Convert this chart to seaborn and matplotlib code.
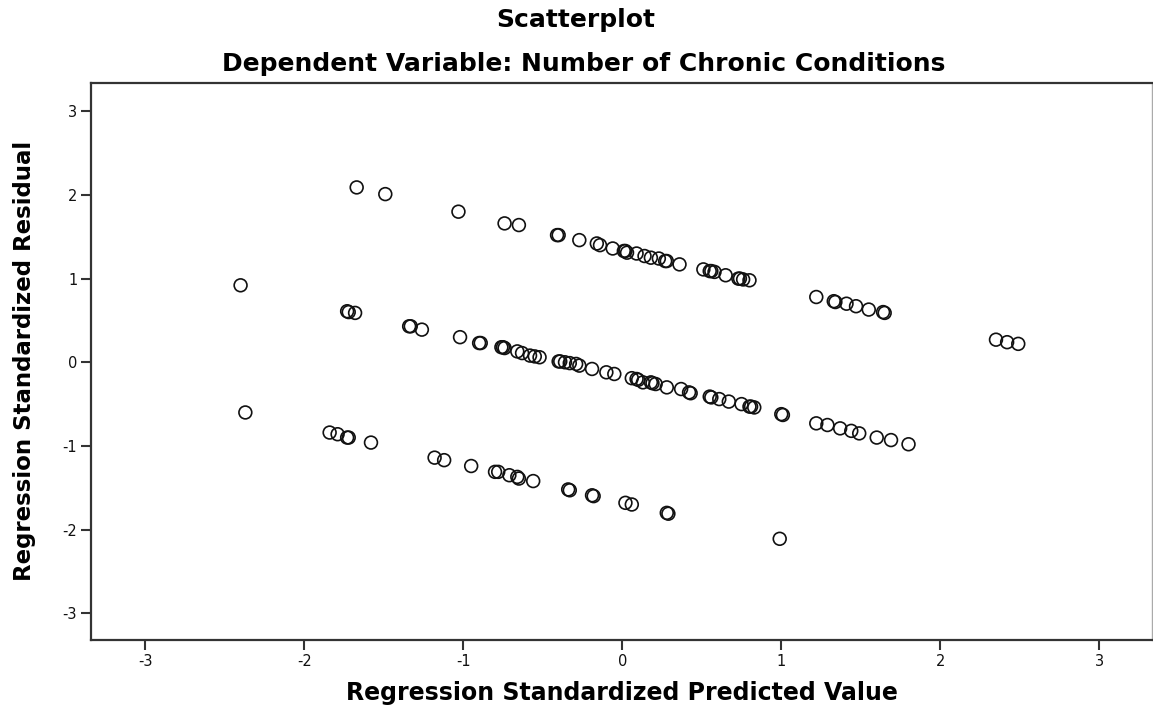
import pandas as pd
import matplotlib
matplotlib.use('Agg')
import matplotlib.pyplot as plt
import seaborn as sns

# values, one list pair per band
pred_top = [-1.67, -1.49, -1.03, -0.74, -0.65, -0.40, -0.41, -0.27, -0.16, -0.14,
            -0.06, 0.02, 0.01, 0.03, 0.09, 0.14, 0.18, 0.23, 0.28, 0.27, 0.36,
            0.51, 0.56, 0.55, 0.58, 0.65, 0.73, 0.74, 0.76, 0.80, 1.22, 1.33,
            1.34, 1.41, 1.47, 1.55, 1.64, 1.65, 2.35, 2.42, 2.49]
resid_top = [2.09, 2.01, 1.80, 1.66, 1.64, 1.52, 1.52, 1.46, 1.42, 1.40,
             1.36, 1.33, 1.33, 1.31, 1.30, 1.27, 1.25, 1.24, 1.21, 1.21, 1.17,
             1.11, 1.09, 1.09, 1.08, 1.04, 1.00, 1.00, 0.99, 0.98, 0.78, 0.73,
             0.72, 0.70, 0.67, 0.63, 0.60, 0.59, 0.27, 0.24, 0.22]

pred_mid = [-2.40, -1.73, -1.72, -1.68, -1.33, -1.34, -1.26, -1.02, -0.89, -0.90,
            -0.75, -0.76, -0.74, -0.66, -0.63, -0.58, -0.55, -0.52, -0.40, -0.39,
            -0.36, -0.33, -0.29, -0.27, -0.19, -0.10, -0.05, 0.06, 0.09, 0.10,
            0.13, 0.18, 0.19, 0.21, 0.28, 0.37, 0.42, 0.43, 0.55, 0.56, 0.61,
            0.67, 0.75, 0.80, 0.81, 0.83, 1.00, 1.01, 1.22, 1.29, 1.37, 1.44,
            1.49, 1.60, 1.69, 1.80]
resid_mid = [0.92, 0.61, 0.60, 0.59, 0.43, 0.43, 0.39, 0.30, 0.23, 0.23,
             0.18, 0.18, 0.17, 0.13, 0.11, 0.08, 0.07, 0.06, 0.01, 0.01,
             0.00, -0.01, -0.02, -0.04, -0.08, -0.12, -0.14, -0.19, -0.20, -0.21,
             -0.24, -0.24, -0.25, -0.26, -0.30, -0.32, -0.36, -0.37, -0.41, -0.42, -0.44,
             -0.47, -0.50, -0.53, -0.53, -0.54, -0.62, -0.63, -0.73, -0.75, -0.79, -0.82,
             -0.85, -0.90, -0.93, -0.98]

pred_low = [-2.37, -1.84, -1.79, -1.73, -1.72, -1.58, -1.18, -1.12, -0.95, -0.80,
            -0.78, -0.71, -0.66, -0.65, -0.56, -0.34, -0.33, -0.19, -0.18, 0.02,
            0.06, 0.28, 0.29, 0.99]
resid_low = [-0.60, -0.84, -0.86, -0.90, -0.90, -0.96, -1.14, -1.17, -1.24, -1.31,
             -1.31, -1.35, -1.37, -1.39, -1.42, -1.52, -1.53, -1.59, -1.60, -1.68,
             -1.70, -1.80, -1.81, -2.11]

ticks = [-3, -2, -1, 0, 1, 2, 3]

df = pd.DataFrame({
    'pred': pred_top + pred_mid + pred_low,
    'resid': resid_top + resid_mid + resid_low,
})

sns.set_style('white')
# wide bold face to get close to the stretched SPSS lettering
plt.rcParams['font.family'] = ['DejaVu Sans']
plt.rcParams['text.color'] = 'black'
plt.rcParams['axes.labelcolor'] = 'black'

fig = plt.figure(figsize=(11.53, 7.08), dpi=100)
ax = fig.add_axes([0.079, 0.096, 0.920, 0.787])

sns.scatterplot(data=df, x='pred', y='resid', ax=ax, marker='o', s=85,
                facecolors='none', edgecolor='#111111', linewidth=1.2)

ax.set_xlim(-3.34, 3.33)
ax.set_ylim(-3.32, 3.34)
ax.set_xticks(ticks)
ax.set_yticks(ticks)
ax.set_xticklabels([str(t) for t in ticks], fontsize=10.5)
ax.set_yticklabels([str(t) for t in ticks], fontsize=10.5)
ax.tick_params(direction='out', length=7, width=1.5, color='#333333',
               labelcolor='#111111', pad=3, bottom=True, left=True)

for side in ['left', 'bottom', 'top']:
    ax.spines[side].set_color('#333333')
    ax.spines[side].set_linewidth(1.6)
ax.spines['right'].set_color('#aaaaaa')
ax.spines['right'].set_linewidth(1.0)

ax.set_xlabel('Regression Standardized Predicted Value', fontsize=17,
              fontweight='bold', labelpad=9)
ax.set_ylabel('Regression Standardized Residual', fontsize=16.5,
              fontweight='bold', labelpad=19)

fig.text(0.4996, 0.972, 'Scatterplot', ha='center', va='center',
         fontsize=18, fontweight='bold')
fig.text(0.506, 0.910, 'Dependent Variable: Number of Chronic Conditions',
         ha='center', va='center', fontsize=18, fontweight='bold')

fig.savefig('out.png', dpi=100)
